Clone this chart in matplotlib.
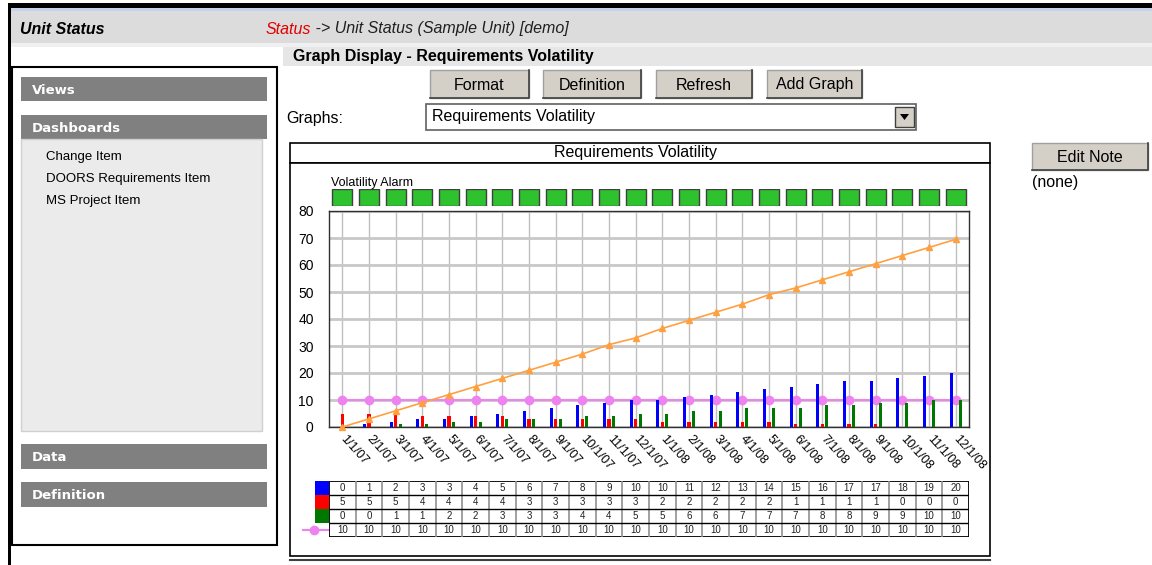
import numpy as np
import matplotlib
matplotlib.use("Agg")
import matplotlib.pyplot as plt
from matplotlib.patches import Rectangle, Polygon

W, H = 1152, 565

# chart data
months = ["1/1/07", "2/1/07", "3/1/07", "4/1/07", "5/1/07", "6/1/07", "7/1/07", "8/1/07",
          "9/1/07", "10/1/07", "11/1/07", "12/1/07", "1/1/08", "2/1/08", "3/1/08", "4/1/08",
          "5/1/08", "6/1/08", "7/1/08", "8/1/08", "9/1/08", "10/1/08", "11/1/08", "12/1/08"]
added = [0, 1, 2, 3, 3, 4, 5, 6, 7, 8, 9, 10, 10, 11, 12, 13, 14, 15, 16, 17, 17, 18, 19, 20]
deleted = [5, 5, 5, 4, 4, 4, 4, 3, 3, 3, 3, 3, 2, 2, 2, 2, 2, 1, 1, 1, 1, 0, 0, 0]
modified = [0, 0, 1, 1, 2, 2, 3, 3, 3, 4, 4, 5, 5, 6, 6, 7, 7, 7, 8, 8, 9, 9, 10, 10]
threshold = [10, 10, 10, 10, 10, 10, 10, 10, 10, 10, 10, 10,
             10, 10, 10, 10, 10, 10, 10, 10, 10, 10, 10, 10]
volatility = [0, 3, 6, 9, 12, 15, 18, 21, 24, 27, 30.5, 33, 36.5, 39.5, 42.5, 45.5,
              49, 51.5, 54.5, 57.5, 60.5, 63.5, 66.5, 69.5]
alarm = ["green"] * 24

sidebar_items = ["Change Item", "DOORS Requirements Item", "MS Project Item"]
buttons = [("Format", 430, 529), ("Definition", 543, 641), ("Refresh", 656, 752), ("Add Graph", 767, 862)]

BLUE, RED, GREEN, PINK, ORANGE = "#0000ff", "#ff0000", "#007800", "#ee82ee", "#ffa040"
UI_FONT = ["Liberation Sans", "DejaVu Sans"]
FS = 11.5  # page text size


def px_axes(fig, x0, y0, x1, y1):
    """axes placed by screen pixel box"""
    return fig.add_axes([x0 / W, 1 - y1 / H, (x1 - x0) / W, (y1 - y0) / H])


def rect(ax, x0, y0, x1, y1, fc="none", ec="none", lw=1.0, z=1):
    ax.add_patch(Rectangle((x0, y0), x1 - x0, y1 - y0, fc=fc, ec=ec, lw=lw, zorder=z))


def button(ax, label, x0, y0, x1, y1):
    rect(ax, x0, y0, x1, y1, fc="#d4d0c8", ec="#a0a0a0", lw=1)
    ax.plot([x0, x1, x1], [y1, y1, y0], color="#404040", lw=1.2)
    ax.text((x0 + x1) / 2, (y0 + y1) / 2 + 1, label, ha="center", va="center",
            fontsize=FS, family=UI_FONT)


def main():
    plt.rcParams["font.family"] = UI_FONT
    fig = plt.figure(figsize=(W / 100, H / 100), dpi=100)
    fig.patch.set_facecolor("white")

    # page chrome drawn in pixel coordinates
    bg = fig.add_axes([0, 0, 1, 1])
    bg.set_xlim(0, W)
    bg.set_ylim(H, 0)
    bg.axis("off")

    rect(bg, 8, 3, W, 8, fc="black")
    rect(bg, 8, 3, 11, H, fc="black")
    rect(bg, 11, 8, W, 11, fc="#c4d2ec")
    rect(bg, 11, 11, W, 43, fc="#dcdcdc")
    rect(bg, 11, 43, W, 47, fc="#f0f0f0")
    rect(bg, 283, 47, W, 66, fc="#e6e6e6")

    bg.text(20, 29, "Unit Status", fontsize=FS, weight="bold", style="italic", va="center")
    st = bg.text(266, 29, "Status", fontsize=FS, style="italic", color="#e00000", va="center")
    bg.annotate(" -> Unit Status (Sample Unit) [demo]", xy=(1, 0), xycoords=st,
                fontsize=FS, style="italic", color="#202020", va="bottom")
    bg.text(293, 57, "Graph Display - Requirements Volatility", fontsize=FS, weight="bold",
            va="center")

    # left navigation panel
    rect(bg, 12, 67, 277, 545, fc="white", ec="black", lw=1.5)
    for label, y0, y1 in [("Views", 77, 101), ("Dashboards", 115, 139),
                          ("Data", 444, 469), ("Definition", 482, 507)]:
        rect(bg, 21, y0, 267, y1, fc="#808080", z=2)
        bg.text(32, (y0 + y1) / 2 + 1, label, color="white", fontsize=9.5, weight="bold",
                family="DejaVu Sans", va="center", zorder=3)
    rect(bg, 21, 139, 262, 431, fc="#ebebeb", ec="#d0d0d0", lw=1, z=2)
    for i, item in enumerate(sidebar_items):
        bg.text(46, 157 + 22 * i, item, fontsize=9.5, va="center", zorder=3)

    # toolbar
    for label, x0, x1 in buttons:
        button(bg, label, x0, 70, x1, 98)
    bg.text(286, 119, "Graphs:", fontsize=FS, va="center")
    rect(bg, 426, 104, 916, 130, fc="white", ec="#606060", lw=1.2)
    bg.text(432, 117, "Requirements Volatility", fontsize=FS, va="center")
    rect(bg, 895, 107, 914, 127, fc="#d4d0c8", ec="#404040", lw=1)
    bg.add_patch(Polygon([(900, 114), (909, 114), (904.5, 120)], fc="black"))

    button(bg, "Edit Note", 1032, 143, 1148, 170)
    bg.text(1032, 182, "(none)", fontsize=FS, va="center")

    # chart container
    rect(bg, 290, 143, 990, 163, fc="white", ec="black", lw=1.2)
    bg.text(636, 153, "Requirements Volatility", fontsize=FS, ha="center", va="center")
    rect(bg, 290, 163, 990, 556, fc="white", ec="black", lw=1.2)
    bg.plot([290, 990], [560, 560], color="#404040", lw=1.5)
    bg.text(331, 183, "Volatility Alarm", fontsize=9, va="center")

    x = np.arange(len(months))

    # alarm squares above the plot
    al = px_axes(fig, 329, 189, 969, 206)
    al.bar(x, [1] * len(alarm), width=0.76,
           color=["#2ec22e" if a == "green" else "#e02020" for a in alarm],
           edgecolor="#404040", linewidth=1)
    al.set_xlim(-0.5, len(months) - 0.5)
    al.set_ylim(0, 1)
    al.axis("off")

    # main plot
    ax = px_axes(fig, 329, 211, 969, 427)
    ax.bar(x - 0.17, added, width=0.12, color=BLUE, zorder=3)
    ax.bar(x, deleted, width=0.12, color=RED, zorder=3)
    ax.bar(x + 0.17, modified, width=0.12, color=GREEN, zorder=3)
    ax.plot(x, threshold, color=PINK, marker="o", ms=6, lw=1.5, zorder=2)
    ax.plot(x, volatility, color=ORANGE, marker="^", ms=5, lw=1.2, zorder=4, clip_on=False)
    ax.set_xlim(-0.5, len(months) - 0.5)
    ax.set_ylim(0, 80)
    ax.set_yticks(range(0, 81, 10))
    ax.set_xticks(x)
    ax.set_xticklabels(months, rotation=-48, ha="left", va="center", rotation_mode="anchor",
                       fontsize=9)
    ax.tick_params(length=0)
    ax.tick_params(axis="y", pad=11, labelsize=10)
    ax.tick_params(axis="x", pad=7)
    ax.grid(axis="y", color="#c8c8c8", lw=2, zorder=0)
    ax.grid(axis="x", color="#c0c0c0", lw=1, zorder=0)
    for s in ax.spines.values():
        s.set_color("#303030")
        s.set_linewidth(1)

    # data table under the plot
    rows = [added, deleted, modified, threshold]
    tb = px_axes(fig, 329, 481, 969, 537)
    tb.set_xlim(-0.5, len(months) - 0.5)
    tb.set_ylim(len(rows), 0)
    tb.axis("off")
    for r, vals in enumerate(rows):
        for c, v in enumerate(vals):
            tb.text(c, r + 0.5, str(v), ha="center", va="center", fontsize=7, color="#202020")
    tb.vlines(x[:-1] + 0.5, 0, len(rows), color="#909090", lw=1.2)
    tb.hlines(range(1, len(rows)), -0.5, len(months) - 0.5, color="black", lw=1)
    tb.add_patch(Rectangle((-0.5, 0), len(months), len(rows), fill=False, ec="black", lw=1.3))

    # legend keys to the left of the table
    for i, col in enumerate([BLUE, RED, GREEN]):
        rect(bg, 315, 481 + 14 * i, 329, 495 + 14 * i, fc=col, z=3)
    bg.plot([303, 329], [530, 530], color=PINK, lw=1.5, zorder=3)
    bg.plot([314], [530], marker="o", ms=6, color=PINK, zorder=3)

    # mouse pointer in the screenshot
    bg.add_patch(Polygon([(864, 212), (864, 230), (868, 226), (872, 236), (875, 234),
                          (871, 225), (877, 225)], fc="white", ec="black", lw=0.8, zorder=5))

    fig.savefig("out.png", dpi=100)


if __name__ == "__main__":
    main()
